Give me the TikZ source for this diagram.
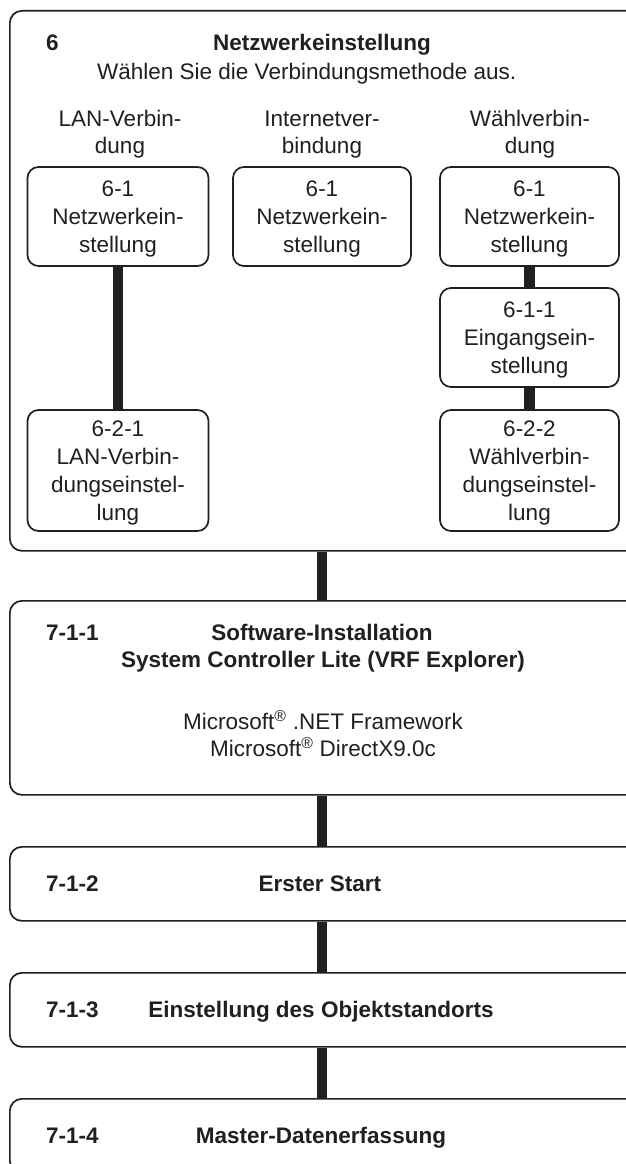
\documentclass[tikz,border=0pt]{standalone}
\usepackage{fontspec}
\setmainfont{Liberation Sans}
\definecolor{ink}{HTML}{231F20}
\tikzset{
  box/.style={draw=ink, line width=1.7pt, rounded corners=11pt, fill=white, text=ink,
    align=center, inner sep=0pt, text depth=0pt, font=\fontsize{22.5}{28}\selectfont},
  bigbox/.style={draw=ink, line width=1.7pt, rounded corners=12pt, fill=white, inner sep=0pt,
    anchor=north west, minimum width=700pt},
  txt/.style={text=ink, inner sep=0pt, font=\fontsize{22.5}{28}\selectfont},
  btxt/.style={text=ink, inner sep=0pt, font=\fontsize{22.5}{28}\selectfont\bfseries},
  conn/.style={draw=ink, line width=10.5pt},
}
\begin{document}
\begin{tikzpicture}[x=1pt,y=-1pt]
\useasboundingbox (0,0) rectangle (626,1164);
\fill[white] (0,0) rectangle (626,1164);
\clip (0,0) rectangle (626,1164);
\coordinate (axis) at (322,0);

% ---- block 6 ----
\node[bigbox, minimum height=540pt] (b6) at (9,10) {};
\node[btxt, anchor=base west] (n6) at (46,51) {6};
\node[btxt, anchor=base] (t6) at (322,51) {Netzwerkeinstellung};
\node[txt, anchor=base west] (s6) at (97,80) {Wählen Sie die Verbindungsmethode aus.};

\node[txt, anchor=base] (h1a) at (120,126) {LAN-Verbin-};
\node[txt, anchor=base] (h1b) at (120,153) {dung};
\node[txt, anchor=base] (h2a) at (322,126) {Internetver-};
\node[txt, anchor=base] (h2b) at (322,153) {bindung};
\node[txt, anchor=base] (h3a) at (530,126) {Wählverbin-};
\node[txt, anchor=base] (h3b) at (530,153) {dung};

\node[box, minimum width=181pt, minimum height=99pt] (c1) at (118,216.5) {6-1\\Netzwerkein-\\stellung};
\node[box, minimum width=178pt, minimum height=99pt] (c2) at (322,216.5) {6-1\\Netzwerkein-\\stellung};
\node[box, minimum width=179pt, minimum height=99pt] (c3) at (529.5,216.5) {6-1\\Netzwerkein-\\stellung};
\node[box, minimum width=179pt, minimum height=99pt] (e3) at (529.5,337.5) {6-1-1\\Eingangsein-\\stellung};
\node[box, minimum width=181pt, minimum height=121pt] (d1) at (118,470.5) {6-2-1\\LAN-Verbin-\\dungseinstel-\\lung};
\node[box, minimum width=179pt, minimum height=121pt] (d3) at (529.5,470.5) {6-2-2\\Wählverbin-\\dungseinstel-\\lung};

\draw[conn] (c1.south) -- (d1.north);
\draw[conn] (c3.south) -- (e3.north);
\draw[conn] (e3.south) -- (d3.north);

% ---- block 7-1-1 ----
\node[bigbox, minimum height=194pt] (b711) at (9,600) {};
\node[btxt, anchor=base west] (n711) at (46,640) {7-1-1};
\node[btxt, anchor=base] (t711a) at (322,640) {Software-Installation};
\node[btxt, anchor=base] (t711b) at (323,667) {System Controller Lite (VRF Explorer)};
\node[txt, anchor=base] (m1) at (323,729) {Microsoft\textsuperscript{®} .NET Framework};
\node[txt, anchor=base] (m2) at (323,756) {Microsoft\textsuperscript{®} DirectX9.0c};

% ---- block 7-1-2 ----
\node[bigbox, minimum height=74pt] (b712) at (9,846) {};
\node[btxt, anchor=base west] (n712) at (46,891) {7-1-2};
\node[btxt, anchor=base] (t712) at (320,891) {Erster Start};

% ---- block 7-1-3 ----
\node[bigbox, minimum height=74pt] (b713) at (9,972) {};
\node[btxt, anchor=base west] (n713) at (46,1017) {7-1-3};
\node[btxt, anchor=base] (t713) at (321,1017) {Einstellung des Objektstandorts};

% ---- block 7-1-4 ----
\node[bigbox, minimum height=74pt] (b714) at (9,1098) {};
\node[btxt, anchor=base west] (n714) at (46,1143) {7-1-4};
\node[btxt, anchor=base] (t714) at (321,1143) {Master-Datenerfassung};

% ---- main connectors ----
\draw[conn] (b6.south -| axis) -- (b711.north -| axis);
\draw[conn] (b711.south -| axis) -- (b712.north -| axis);
\draw[conn] (b712.south -| axis) -- (b713.north -| axis);
\draw[conn] (b713.south -| axis) -- (b714.north -| axis);
\end{tikzpicture}
\end{document}
